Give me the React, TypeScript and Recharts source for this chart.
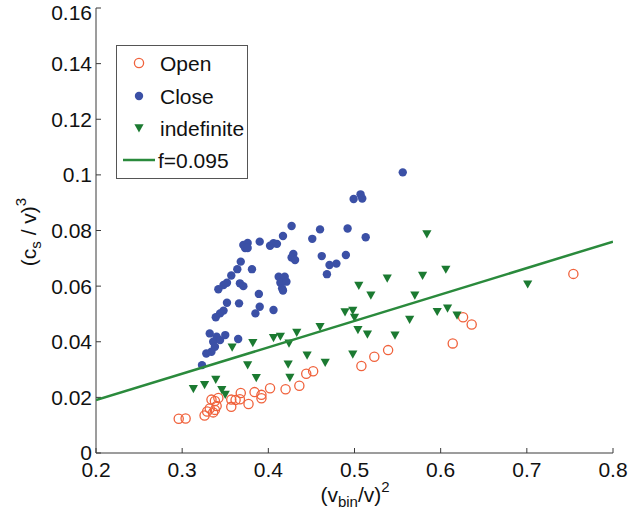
import React from 'react';
import { ScatterChart, Scatter, XAxis, YAxis, Legend } from 'recharts';

// (v_bin/v)^2, (c_s/v)^3 pairs for each class
const openPoints: [number, number][] = [
  [0.296, 0.0123], [0.304, 0.0124], [0.326, 0.0135], [0.329, 0.0149], [0.332, 0.016],
  [0.336, 0.0146], [0.338, 0.0155], [0.34, 0.0169], [0.334, 0.0192], [0.338, 0.0187],
  [0.342, 0.0198], [0.357, 0.0166], [0.357, 0.0192], [0.362, 0.0191], [0.367, 0.0193],
  [0.368, 0.0216], [0.377, 0.0176], [0.384, 0.0219], [0.392, 0.0209], [0.392, 0.0197],
  [0.402, 0.0233], [0.42, 0.0229], [0.436, 0.0242], [0.444, 0.0285], [0.452, 0.0294],
  [0.508, 0.0313], [0.523, 0.0346], [0.539, 0.037], [0.614, 0.0394], [0.626, 0.0488],
  [0.636, 0.0462], [0.754, 0.0644],
];

const closePoints: [number, number][] = [
  [0.556, 0.1009], [0.499, 0.0913], [0.507, 0.093], [0.509, 0.0915], [0.427, 0.0816],
  [0.46, 0.0804], [0.492, 0.0807], [0.451, 0.077], [0.513, 0.0776], [0.429, 0.0716],
  [0.427, 0.0703], [0.431, 0.0694], [0.462, 0.0708], [0.49, 0.0712], [0.471, 0.0676],
  [0.479, 0.0681], [0.468, 0.0643], [0.417, 0.078], [0.39, 0.076], [0.371, 0.0748],
  [0.376, 0.0755], [0.373, 0.0737], [0.376, 0.0737], [0.402, 0.0745], [0.406, 0.0754],
  [0.41, 0.0752], [0.368, 0.0688], [0.364, 0.0661], [0.381, 0.0661], [0.357, 0.0638],
  [0.412, 0.0634], [0.419, 0.0634], [0.414, 0.0612], [0.421, 0.0616], [0.416, 0.0592],
  [0.417, 0.0584], [0.352, 0.0612], [0.348, 0.0604], [0.342, 0.0589], [0.367, 0.061],
  [0.371, 0.06], [0.389, 0.0572], [0.352, 0.054], [0.366, 0.0538], [0.39, 0.0526],
  [0.385, 0.0502], [0.406, 0.0514], [0.348, 0.0512], [0.344, 0.0502], [0.339, 0.0488],
  [0.332, 0.043], [0.34, 0.0418], [0.336, 0.04], [0.344, 0.0406], [0.338, 0.0382],
  [0.334, 0.0364], [0.328, 0.0358], [0.365, 0.041], [0.323, 0.0316], [0.35, 0.0424],
];

const indefinitePoints: [number, number][] = [
  [0.584, 0.0787], [0.606, 0.066], [0.579, 0.0638], [0.538, 0.0628], [0.505, 0.0602],
  [0.519, 0.0567], [0.57, 0.0567], [0.701, 0.0607], [0.489, 0.0507], [0.498, 0.0512],
  [0.5, 0.0487], [0.596, 0.0508], [0.608, 0.052], [0.619, 0.0495], [0.564, 0.048],
  [0.46, 0.0454], [0.504, 0.0443], [0.515, 0.0427], [0.547, 0.0423], [0.445, 0.0351],
  [0.498, 0.0355], [0.433, 0.0433], [0.424, 0.0394], [0.406, 0.0414], [0.414, 0.0419],
  [0.382, 0.0396], [0.358, 0.038], [0.466, 0.0325], [0.376, 0.0316], [0.423, 0.0319],
  [0.386, 0.027], [0.425, 0.0271], [0.339, 0.0264], [0.326, 0.0245], [0.313, 0.0231],
  [0.346, 0.0227], [0.35, 0.021],
];

// fit line (c_s/v)^3 = f * (v_bin/v)^2
const F_VALUE = 0.095;
const fitRange = [0.2, 0.8];

const xTicks = [0.2, 0.3, 0.4, 0.5, 0.6, 0.7, 0.8];
const yTicks = [0, 0.02, 0.04, 0.06, 0.08, 0.1, 0.12, 0.14, 0.16];

const seriesNames = ['Open', 'Close', 'indefinite', `f=${F_VALUE}`];

const OPEN_COLOR = '#f0623c';
const CLOSE_COLOR = '#3b50a6';
const INDEF_COLOR = '#1b7a31';
const FIT_COLOR = '#2a8a3c';
const AXIS_COLOR = '#3a3a3a';
const TEXT_COLOR = '#111';
const FONT = '"Liberation Sans", Arial, Helvetica, sans-serif';

const toXY = (pts: [number, number][]) => pts.map(([x, y]) => ({ x, y }));
const fitData = fitRange.map((x) => ({ x, y: F_VALUE * x }));

const OpenShape = (p: any) => (
  <circle cx={p.cx} cy={p.cy} r={4.6} fill="none" stroke={OPEN_COLOR} strokeWidth={1.3} />
);
const CloseShape = (p: any) => <circle cx={p.cx} cy={p.cy} r={4.2} fill={CLOSE_COLOR} />;
const TriangleShape = (p: any) => {
  const { cx, cy } = p;
  return (
    <polygon
      points={`${cx - 4.6},${cy - 3.8} ${cx + 4.6},${cy - 3.8} ${cx},${cy + 4.4}`}
      fill={INDEF_COLOR}
    />
  );
};
const NoShape = () => <g />;

const fmt = (v: number) => String(Number(v.toFixed(2)));

const LegendBox = () => {
  const rowY = [18, 51, 83, 115];
  const mx = 23;
  return (
    <svg width={132} height={134} style={{ display: 'block' }}>
      <rect x={0.5} y={0.5} width={131} height={133} fill="#fff" stroke="#555" strokeWidth={1} />
      <OpenShape cx={mx} cy={rowY[0]} />
      <CloseShape cx={mx} cy={rowY[1]} />
      <TriangleShape cx={mx} cy={rowY[2]} />
      <line x1={7} x2={39} y1={rowY[3]} y2={rowY[3]} stroke={FIT_COLOR} strokeWidth={2.5} />
      {seriesNames.map((n, i) => (
        <text
          key={n}
          x={i === 3 ? 42 : 44}
          y={rowY[i]}
          dy="0.36em"
          fontSize={21}
          fontFamily={FONT}
          fill={TEXT_COLOR}
        >
          {n}
        </text>
      ))}
    </svg>
  );
};

const YLabel = () => (
  <text
    transform="translate(36,232) rotate(-90)"
    textAnchor="middle"
    fontSize={21}
    fontFamily={FONT}
    fill={TEXT_COLOR}
  >
    {'(c'}
    <tspan fontSize={15} dy={5}>s</tspan>
    <tspan dy={-5}>{' / v)'}</tspan>
    <tspan fontSize={15} dy={-10}>3</tspan>
  </text>
);

const XLabel = () => (
  <text
    transform="translate(355,502)"
    textAnchor="middle"
    fontSize={21}
    fontFamily={FONT}
    fill={TEXT_COLOR}
  >
    {'(v'}
    <tspan fontSize={15} dy={5}>bin</tspan>
    <tspan dy={-5}>{'/v)'}</tspan>
    <tspan fontSize={15} dy={-10}>2</tspan>
  </text>
);

const tickStyle = { fill: TEXT_COLOR, fontSize: 21, fontFamily: FONT };

export default function App() {
  return (
    <div style={{ position: 'absolute', left: 0, top: 0, width: 630, height: 523, background: '#fff' }}>
      <ScatterChart width={630} height={523} margin={{ top: 8, right: 17, bottom: 30, left: 36 }}>
        <XAxis
          xAxisId="b"
          type="number"
          dataKey="x"
          domain={[0.2, 0.8]}
          ticks={xTicks}
          allowDataOverflow
          height={40}
          tickSize={-5}
          tickMargin={14}
          tick={tickStyle}
          tickFormatter={fmt}
          stroke={AXIS_COLOR}
          label={{ content: () => <XLabel /> }}
        />
        <XAxis
          xAxisId="t"
          orientation="top"
          type="number"
          dataKey="x"
          domain={[0.2, 0.8]}
          ticks={xTicks}
          allowDataOverflow
          height={0}
          tickSize={-5}
          tick={false}
          stroke={AXIS_COLOR}
        />
        <YAxis
          yAxisId="l"
          type="number"
          dataKey="y"
          domain={[0, 0.16]}
          ticks={yTicks}
          allowDataOverflow
          width={60}
          tickSize={-5}
          tickMargin={9}
          tick={tickStyle}
          tickFormatter={fmt}
          stroke={AXIS_COLOR}
          label={{ content: () => <YLabel /> }}
        />
        <YAxis
          yAxisId="r"
          orientation="right"
          type="number"
          dataKey="y"
          domain={[0, 0.16]}
          ticks={yTicks}
          allowDataOverflow
          width={0}
          tickSize={-5}
          tick={false}
          stroke={AXIS_COLOR}
        />
        <Scatter
          xAxisId="b"
          yAxisId="l"
          name="Open"
          data={toXY(openPoints)}
          shape={OpenShape}
          isAnimationActive={false}
        />
        <Scatter
          xAxisId="b"
          yAxisId="l"
          name="Close"
          data={toXY(closePoints)}
          shape={CloseShape}
          isAnimationActive={false}
        />
        <Scatter
          xAxisId="b"
          yAxisId="l"
          name="indefinite"
          data={toXY(indefinitePoints)}
          shape={TriangleShape}
          isAnimationActive={false}
        />
        <Scatter
          xAxisId="b"
          yAxisId="l"
          name={`f=${F_VALUE}`}
          data={fitData}
          shape={NoShape}
          line={{ stroke: FIT_COLOR, strokeWidth: 2.5 }}
          lineType="joint"
          isAnimationActive={false}
        />
        <Legend
          layout="vertical"
          align="center"
          verticalAlign="middle"
          content={() => <LegendBox />}
          wrapperStyle={{ left: 116, top: 45, width: 132, height: 134 }}
        />
      </ScatterChart>
    </div>
  );
}
